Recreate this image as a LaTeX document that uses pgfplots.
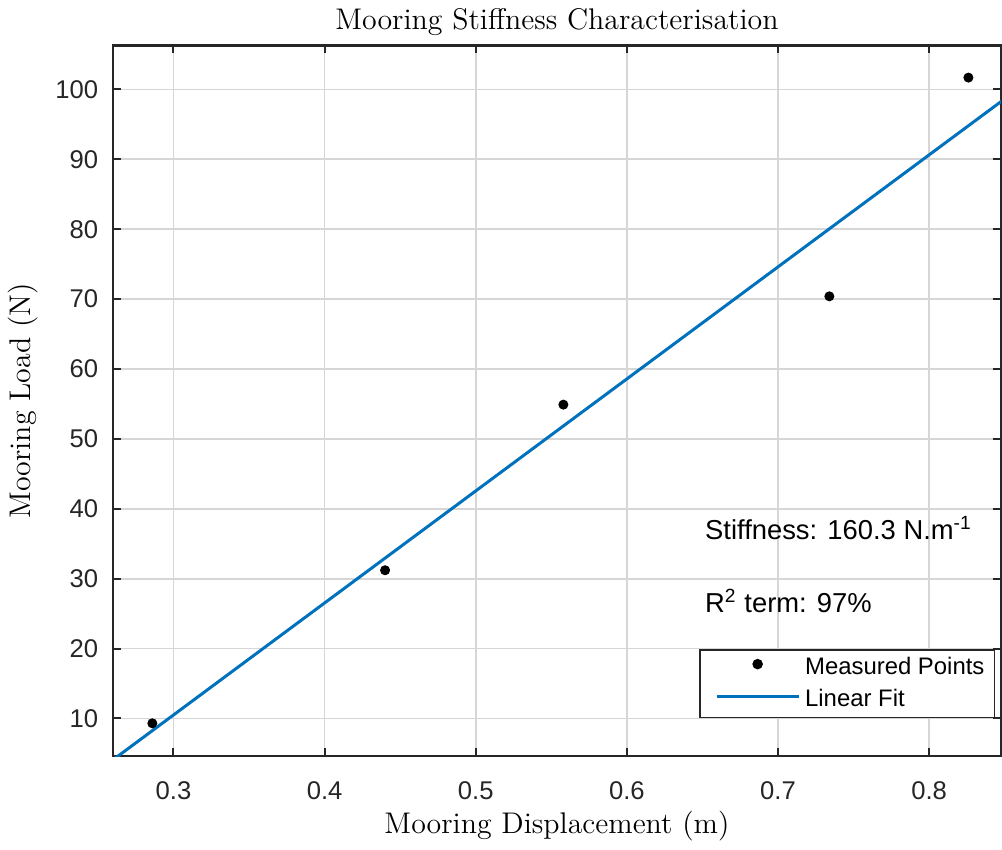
\documentclass[border=0pt]{standalone}
\usepackage{fontspec}
\usepackage{pgfplots}
\pgfplotsset{compat=1.18}
\newfontfamily\arial{Liberation Sans}
\definecolor{mblue}{rgb}{0,0.447,0.741}
\definecolor{axcol}{HTML}{262626}
\begin{document}
\begin{tikzpicture}
\begin{axis}[
  scale only axis,
  width=356.8pt, height=285.6pt,
  xmin=0.26, xmax=0.8475,
  ymin=4.6, ymax=106.3,
  xtick={0.3,0.4,0.5,0.6,0.7,0.8},
  xticklabels={0.3,0.4,0.5,0.6,0.7,0.8},
  ytick={10,20,30,40,50,60,70,80,90,100},
  tick align=inside,
  xtick pos=both, ytick pos=both,
  major tick length=3.2pt,
  tick style={axcol, line width=0.8pt},
  axis line style={axcol, line width=0.9pt},
  grid=major,
  major grid style={gray!32, line width=0.7pt},
  /pgf/number format/assume math mode=true,
  ticklabel style={font=\fontsize{10.3}{12}\arial, text=axcol},
  xticklabel style={yshift=-6.5pt},
  yticklabel style={xshift=-2.5pt},
  title={Mooring Stiffness Characterisation},
  title style={font=\fontsize{12}{14}\selectfont, yshift=-5.5pt},
  xlabel={Mooring Displacement (m)},
  ylabel={Mooring Load (N)},
  label style={font=\fontsize{12}{14}\selectfont},
  xlabel style={yshift=2pt},
  ylabel style={yshift=0pt},
  legend style={font=\fontsize{9.6}{11.5}\arial, at={(rel axis cs:0.9935,0.053)}, anchor=south east,
    draw=axcol, line width=0.6pt, inner xsep=2pt, inner ysep=1pt, row sep=0.4pt, cells={anchor=west}},
  legend cell align=left,
  clip=true,
]
\addplot[only marks, mark=*, mark size=1.8pt, black,
  legend image code/.code={\path (-0.14cm,0); \fill[black] (0.58cm,0) circle (1.8pt);}]
  coordinates {(0.286,9.3) (0.440,31.2) (0.558,54.9) (0.734,70.4) (0.826,101.7)};
\addlegendentry{Measured Points}
\addplot[mblue, line width=1.2pt,
  legend image code/.code={\path (-0.14cm,0); \draw[mblue, line width=1.2pt] (0,0) -- (1.16cm,0);}]
  coordinates {(0.26,4.08) (0.85,98.655)};
\addlegendentry{Linear Fit}
\node[anchor=west, font=\fontsize{11}{13}\arial, inner sep=0pt] at (axis cs:0.6515,37.2) {Stiffness: 160.3 N.m\textsuperscript{-1}};
\node[anchor=west, font=\fontsize{11}{13}\arial, inner sep=0pt] at (axis cs:0.6515,26.8) {R\textsuperscript{2} term: 97\%};
\end{axis}
\end{tikzpicture}
\end{document}
